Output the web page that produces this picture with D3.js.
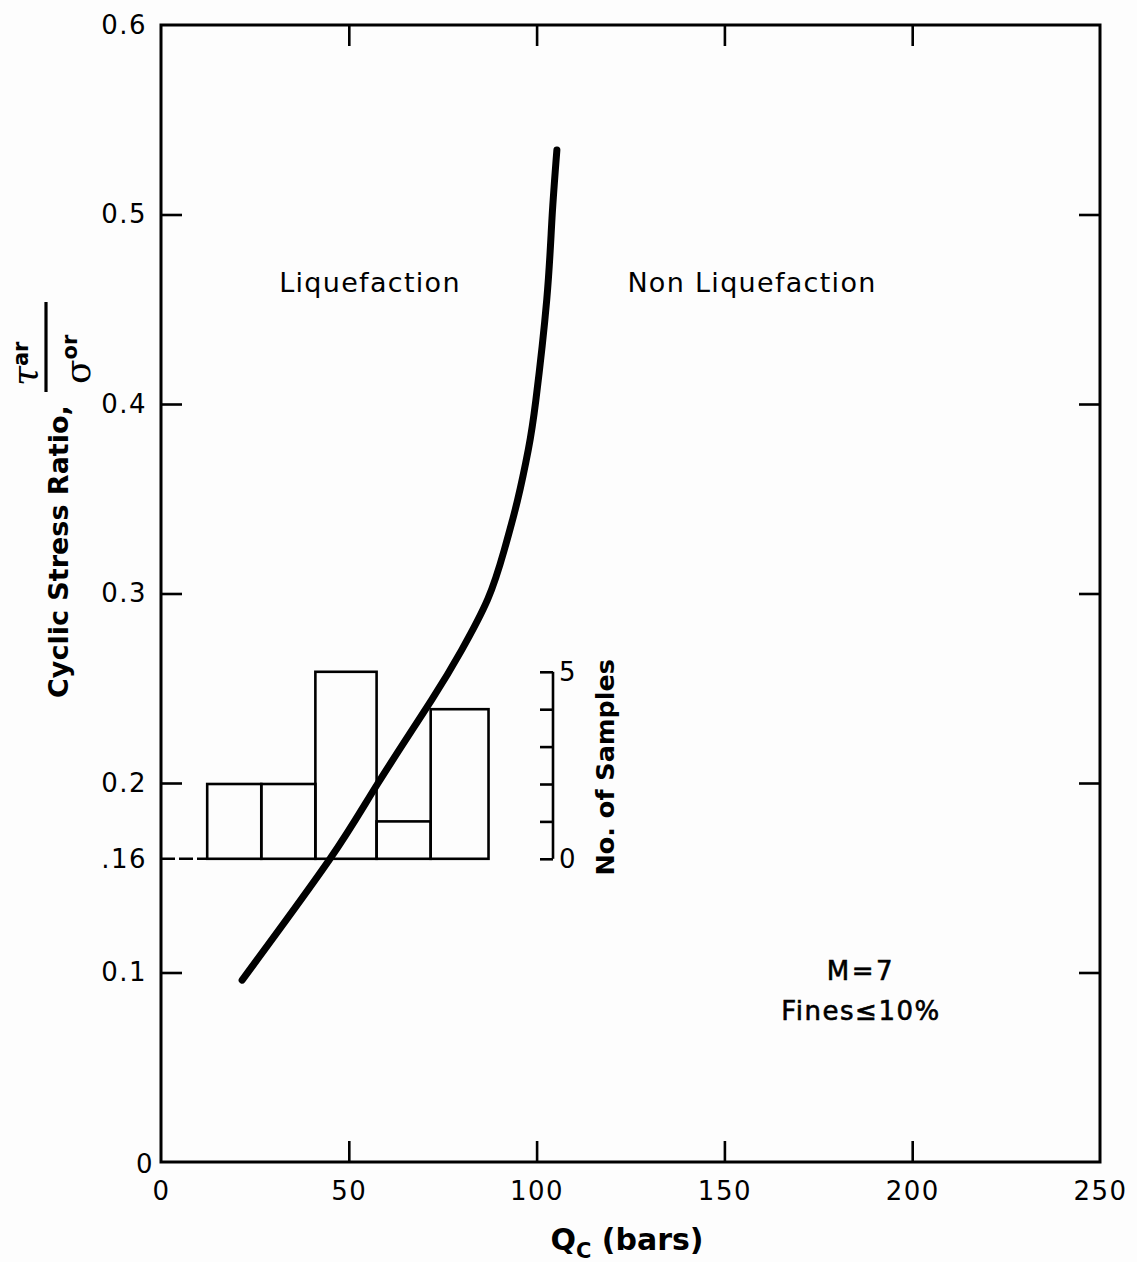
<!DOCTYPE html>
<html>
<head>
<meta charset="utf-8">
<script src="https://cdn.jsdelivr.net/npm/d3@7"></script>
<style>
  html, body { margin: 0; padding: 0; background: #fdfdfd; }
  svg { display: block; }
  text { fill: #000; font-family: "DejaVu Sans", sans-serif; }
</style>
</head>
<body>
<script>
// Boundary curve between liquefaction and non-liquefaction (Qc in bars vs cyclic stress ratio)
const curveQc  = [21.6, 45.0, 57.8, 72.1, 80.0, 87.0, 91.4, 94.9, 97.8, 99.8, 102.7, 104.1, 105.4];
const curveCsr = [0.096, 0.160, 0.200, 0.244, 0.270, 0.297, 0.323, 0.349, 0.376, 0.402, 0.455, 0.498, 0.534];

// Histogram of samples (bin edges in Qc, counts per bin)
const binEdges  = [12.3, 26.7, 41.1, 57.4, 71.8, 87.2];
const binCounts = [2, 2, 5, 1, 4];
const histBase  = 0.16;

// Axis ticks
const xTicks      = [0, 50, 100, 150, 200, 250];
const xTickLabels = ["0", "50", "100", "150", "200", "250"];
const yTicks      = [0, 0.1, 0.16, 0.2, 0.3, 0.4, 0.5, 0.6];
const yTickLabels = ["0", "0.1", ".16", "0.2", "0.3", "0.4", "0.5", "0.6"];
const countTicks  = [0, 1, 2, 3, 4, 5];
const countLabels = ["0", "", "", "", "", "5"];

const W = 1137, H = 1262;
const plotLeft = 161, plotRight = 1100, plotTop = 25, plotBottom = 1162;

const svg = d3.select("body").append("svg")
  .attr("width", W).attr("height", H);

const x = d3.scaleLinear().domain([0, 250]).range([plotLeft, plotRight]);
const y = d3.scaleLinear().domain([0, 0.6]).range([plotBottom, plotTop]);
const yCount = d3.scaleLinear().domain([0, 5]).range([y(histBase), y(histBase) - 187]);

const inner = [50, 100, 150, 200];
const innerY = [0.1, 0.2, 0.3, 0.4, 0.5];
const tickLen = 21;

// Tick marks on all four sides, pointing inward
function tickMarks(g) {
  g.selectAll("path").remove();
  g.selectAll(".tick text").remove();
  g.selectAll(".tick line").attr("stroke", "#000").attr("stroke-width", 2.6);
}
svg.append("g").attr("transform", `translate(0,${plotBottom})`)
  .call(d3.axisBottom(x).tickValues(inner).tickSize(-tickLen)).call(tickMarks);
svg.append("g").attr("transform", `translate(0,${plotTop})`)
  .call(d3.axisTop(x).tickValues(inner).tickSize(-tickLen)).call(tickMarks);
svg.append("g").attr("transform", `translate(${plotLeft},0)`)
  .call(d3.axisLeft(y).tickValues(innerY).tickSize(-tickLen)).call(tickMarks);
svg.append("g").attr("transform", `translate(${plotRight},0)`)
  .call(d3.axisRight(y).tickValues(innerY).tickSize(-tickLen)).call(tickMarks);

// Tick labels
function labelsOnly(g) {
  g.selectAll("path").remove();
  g.selectAll(".tick line").remove();
  g.selectAll(".tick text")
    .attr("font-family", "'DejaVu Sans', sans-serif")
    .attr("font-size", 26)
    .attr("letter-spacing", 1.5)
    .attr("fill", "#000");
}
svg.append("g").attr("transform", `translate(0,${plotBottom})`)
  .call(d3.axisBottom(x).tickValues(xTicks).tickSize(0).tickPadding(20)
    .tickFormat((d, i) => xTickLabels[i]))
  .call(labelsOnly);
const yLab = svg.append("g").attr("transform", `translate(${plotLeft},0)`)
  .call(d3.axisLeft(y).tickValues(yTicks).tickSize(0).tickPadding(14)
    .tickFormat((d, i) => yTickLabels[i]))
  .call(labelsOnly);
// the zero label sits a little lower, tucked against the corner
yLab.selectAll(".tick").filter(d => d === 0).select("text").attr("x", -7).attr("dy", "0.4em");

// Frame
svg.append("rect")
  .attr("x", plotLeft).attr("y", plotTop)
  .attr("width", plotRight - plotLeft).attr("height", plotBottom - plotTop)
  .attr("fill", "none").attr("stroke", "#000").attr("stroke-width", 3);

// Dashed guide at the histogram base
svg.append("line")
  .attr("x1", plotLeft).attr("x2", x(binEdges[0]))
  .attr("y1", y(histBase)).attr("y2", y(histBase))
  .attr("stroke", "#000").attr("stroke-width", 2.6)
  .attr("stroke-dasharray", "14,4");

// Histogram bars
const bins = binCounts.map((c, i) => ({ x0: binEdges[i], x1: binEdges[i + 1], c }));
svg.append("g").selectAll("rect").data(bins).join("rect")
  .attr("x", d => x(d.x0))
  .attr("width", d => x(d.x1) - x(d.x0))
  .attr("y", d => yCount(d.c))
  .attr("height", d => yCount(0) - yCount(d.c))
  .attr("fill", "none").attr("stroke", "#000").attr("stroke-width", 2.6);

// Sample-count axis
const countX = 553;
const cAxis = svg.append("g").attr("transform", `translate(${countX},0)`)
  .call(d3.axisRight(yCount).tickValues(countTicks).tickSize(0).tickPadding(6)
    .tickFormat((d, i) => countLabels[i]));
cAxis.select("path").attr("stroke", "#000").attr("stroke-width", 2.6)
  .attr("d", `M0,${yCount(0)}V${yCount(5)}`);
cAxis.selectAll(".tick").append("line")
  .attr("x1", -13).attr("x2", 0)
  .attr("stroke", "#000").attr("stroke-width", 2.6);
cAxis.selectAll(".tick text")
  .attr("font-family", "'DejaVu Sans', sans-serif")
  .attr("font-size", 26).attr("fill", "#000");
svg.append("text")
  .attr("transform", `translate(614,${(yCount(0) + yCount(5)) / 2 + 2}) rotate(-90)`)
  .attr("text-anchor", "middle")
  .attr("font-size", 25.5).attr("font-weight", "bold")
  .text("No. of Samples");

// Boundary curve
const pts = curveQc.map((q, i) => [q, curveCsr[i]]);
svg.append("path")
  .datum(pts)
  .attr("d", d3.line().x(d => x(d[0])).y(d => y(d[1])).curve(d3.curveNatural))
  .attr("fill", "none").attr("stroke", "#000")
  .attr("stroke-width", 7).attr("stroke-linecap", "round");

// Region labels
svg.append("text").attr("x", 370).attr("y", 292)
  .attr("text-anchor", "middle").attr("font-size", 27).attr("letter-spacing", 1.3)
  .text("Liquefaction");
svg.append("text").attr("x", 752).attr("y", 292)
  .attr("text-anchor", "middle").attr("font-size", 27).attr("letter-spacing", 1.3)
  .text("Non Liquefaction");

// Condition notes
svg.append("text").attr("x", 861).attr("y", 980)
  .attr("text-anchor", "middle").attr("font-size", 26).attr("letter-spacing", 2.5)
  .attr("stroke", "#000").attr("stroke-width", 0.6)
  .text("M=7");
svg.append("text").attr("x", 861).attr("y", 1020)
  .attr("text-anchor", "middle").attr("font-size", 26).attr("letter-spacing", 1.5)
  .attr("stroke", "#000").attr("stroke-width", 0.6)
  .text("Fines≤10%");

// X axis title
const xt = svg.append("text").attr("x", 627).attr("y", 1250)
  .attr("text-anchor", "middle").attr("font-size", 30).attr("font-weight", "bold");
xt.append("tspan").text("Q");
xt.append("tspan").attr("font-size", 21).attr("dy", 8).text("C");
xt.append("tspan").attr("dy", -8).text(" (bars)");

// Y axis title with the stress fraction
const yt = svg.append("g").attr("transform", "translate(68,698) rotate(-90)");
yt.append("text").attr("x", 0).attr("y", 0)
  .attr("font-size", 27).attr("font-weight", "bold")
  .text("Cyclic Stress Ratio,");
const fx = 306;
yt.append("line").attr("x1", fx).attr("x2", fx + 90)
  .attr("y1", -22).attr("y2", -22)
  .attr("stroke", "#000").attr("stroke-width", 3.2);
const num = yt.append("text").attr("x", fx + 6).attr("y", -31)
  .attr("font-size", 36);
num.append("tspan").attr("font-family", "'DejaVu Serif', serif").attr("font-style", "italic").text("τ");
num.append("tspan").attr("font-size", 21).attr("font-weight", "bold").attr("dy", -9).text("ar");
const den = yt.append("text").attr("x", fx + 8).attr("y", 22)
  .attr("font-size", 36);
den.append("tspan").attr("font-family", "'DejaVu Serif', serif").text("σ");
den.append("tspan").attr("font-size", 21).attr("font-weight", "bold").attr("dy", -13).text("or");
</script>
</body>
</html>
